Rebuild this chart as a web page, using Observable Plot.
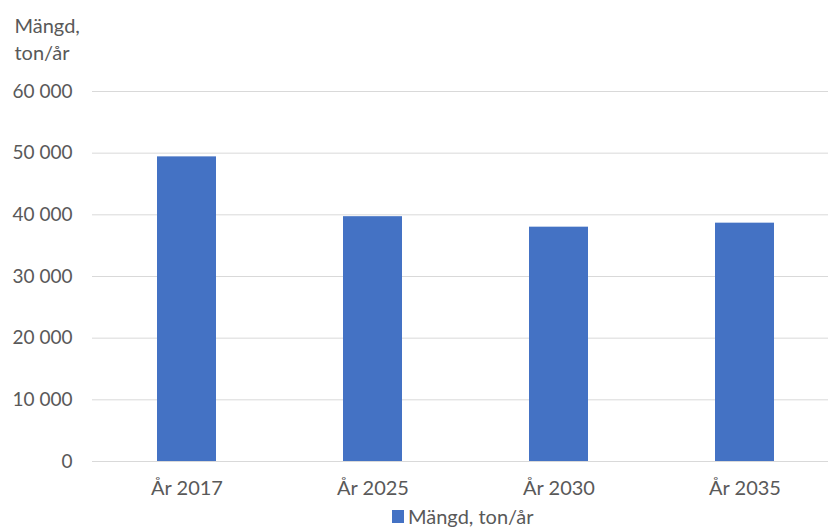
<!DOCTYPE html>
<html>
<head>
<meta charset="utf-8">
<script src="https://cdn.jsdelivr.net/npm/d3@7"></script>
<script src="https://cdn.jsdelivr.net/npm/@observablehq/plot@0.6"></script>
<style>
  body { margin: 0; background: #fff; font-family: Lato, "Open Sans", sans-serif; }
  #wrap { position: relative; width: 828px; height: 529px; }
  #legend { position: absolute; left: 392px; top: 506px; height: 20px; line-height: 20px; display: flex; align-items: center; font-size: 20px; color: #595959; font-family: Lato, sans-serif; }
  #legend span.sw { display: inline-block; width: 12px; height: 13px; background: #4472C4; margin-right: 4px; }
</style>
</head>
<body>
<div id="wrap"></div>
<script>
const categories = ["År 2017", "År 2025", "År 2030", "År 2035"];
const values = [49400, 39700, 38000, 38650];
const yTicks = [0, 10000, 20000, 30000, 40000, 50000, 60000];
const seriesName = "Mängd, ton/år";
const axisTitle = ["Mängd,", "ton/år"];

const data = categories.map((c, i) => ({ cat: c, value: values[i] }));
const fmt = d => d3.format(",")(d).replace(/,/g, " ");

const chart = Plot.plot({
  width: 828,
  height: 503,
  marginTop: 91,
  marginBottom: 42,
  marginLeft: 92,
  marginRight: 0,
  style: { fontFamily: "Lato, sans-serif", fontSize: "18px", color: "#595959", background: "#fff" },
  x: { domain: categories, range: [92, 838], paddingInner: 0.684, paddingOuter: 0.342 },
  y: { domain: [0, 60000] },
  marks: [
    Plot.gridY(yTicks, { stroke: "#d9d9d9", strokeOpacity: 1, strokeWidth: 1 }),
    Plot.barY(data, { x: "cat", y: "value", fill: "#4472C4" }),
    Plot.axisY(yTicks, { tickSize: 0, tickPadding: 20, tickFormat: fmt, fill: "#595959", fontSize: 19, label: null }),
    Plot.axisX({ tickSize: 0, tickPadding: 19, fill: "#595959", fontSize: 20, label: null }),
    Plot.text([axisTitle.join("\n")], { frameAnchor: "top-left", dx: -78, dy: -78, textAnchor: "start", lineAnchor: "top", lineHeight: 1.35, fill: "#595959", fontSize: 20 })
  ]
});
document.getElementById("wrap").appendChild(chart);
const lg = document.createElement("div");
lg.id = "legend";
lg.innerHTML = `<span class="sw"></span><span>${seriesName}</span>`;
document.getElementById("wrap").appendChild(lg);
</script>
</body>
</html>
